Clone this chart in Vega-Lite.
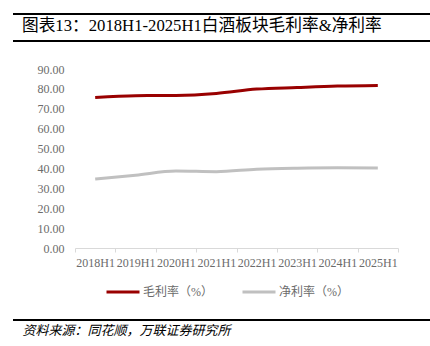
{
  "$schema": "https://vega.github.io/schema/vega-lite/v6.json",
  "width": 323,
  "height": 179,
  "autosize": {"type": "none"},
  "padding": {"left": 75, "top": 69, "right": 32, "bottom": 98},
  "background": "white",
  "title": {
    "text": "图表13：2018H1-2025H1白酒板块毛利率&净利率",
    "anchor": "start",
    "frame": "group",
    "dx": -53,
    "offset": -22,
    "fontSize": 16.7,
    "fontWeight": "normal",
    "font": "Liberation Serif, Noto Sans CJK SC",
    "color": "#000000"
  },
  "config": {
    "view": {"stroke": null},
    "font": "Liberation Serif, Noto Sans CJK SC"
  },
  "layer": [
    {
      "data": {
        "values": [
          {"period": "2018H1", "metric": "毛利率（%）", "value": 75.7},
          {"period": "2019H1", "metric": "毛利率（%）", "value": 76.6},
          {"period": "2020H1", "metric": "毛利率（%）", "value": 76.7},
          {"period": "2021H1", "metric": "毛利率（%）", "value": 77.7},
          {"period": "2022H1", "metric": "毛利率（%）", "value": 79.9},
          {"period": "2023H1", "metric": "毛利率（%）", "value": 80.7},
          {"period": "2024H1", "metric": "毛利率（%）", "value": 81.4},
          {"period": "2025H1", "metric": "毛利率（%）", "value": 81.7},
          {"period": "2018H1", "metric": "净利率（%）", "value": 34.7},
          {"period": "2019H1", "metric": "净利率（%）", "value": 36.6},
          {"period": "2020H1", "metric": "净利率（%）", "value": 38.7},
          {"period": "2021H1", "metric": "净利率（%）", "value": 38.4},
          {"period": "2022H1", "metric": "净利率（%）", "value": 39.6},
          {"period": "2023H1", "metric": "净利率（%）", "value": 40.1},
          {"period": "2024H1", "metric": "净利率（%）", "value": 40.3},
          {"period": "2025H1", "metric": "净利率（%）", "value": 40.2}
        ]
      },
      "mark": {"type": "line", "strokeWidth": 3, "interpolate": "monotone"},
      "encoding": {
        "x": {
          "field": "period",
          "type": "ordinal",
          "scale": {"type": "band", "paddingInner": 0, "paddingOuter": 0},
          "axis": {
            "title": "资料来源：同花顺，万联证券研究所",
            "titleAnchor": "start",
            "titleAlign": "left",
            "titleX": -53,
            "titleY": 82,
            "titleBaseline": "middle",
            "titleFontStyle": "italic",
            "titleFontWeight": "normal",
            "titleFontSize": 13,
            "titleColor": "#000000",
            "labelAngle": 0,
            "labelFontSize": 12,
            "labelColor": "#6b6b6b",
            "labelPadding": 5,
            "tickBand": "extent",
            "tickColor": "#d9d9d9",
            "tickSize": 4,
            "domainColor": "#d9d9d9",
            "grid": false
          }
        },
        "y": {
          "field": "value",
          "type": "quantitative",
          "scale": {"domain": [0, 90]},
          "axis": {
            "title": null,
            "values": [0, 10, 20, 30, 40, 50, 60, 70, 80, 90],
            "format": ".2f",
            "labelFontSize": 12,
            "labelColor": "#6b6b6b",
            "labelPadding": 11,
            "ticks": false,
            "domain": false,
            "grid": false
          }
        },
        "color": {
          "field": "metric",
          "type": "nominal",
          "sort": ["毛利率（%）", "净利率（%）"],
          "scale": {"domain": ["毛利率（%）", "净利率（%）"], "range": ["#990000", "#c0c0c0"]},
          "legend": {
            "title": null,
            "orient": "none",
            "legendX": 30,
            "legendY": 205,
            "direction": "horizontal",
            "symbolType": "stroke",
            "symbolSize": 1089,
            "symbolStrokeWidth": 3,
            "labelFontSize": 12,
            "labelColor": "#6b6b6b",
            "labelOffset": 2,
            "columnPadding": 23
          }
        }
      }
    },
    {
      "data": {"values": [{"y": -55}, {"y": -28}, {"y": 251}]},
      "mark": {"type": "rule", "color": "#000000", "strokeWidth": 2, "clip": false},
      "encoding": {
        "x": {"value": -62},
        "x2": {"value": 355},
        "y": {"field": "y", "type": "quantitative", "scale": null}
      }
    }
  ]
}
